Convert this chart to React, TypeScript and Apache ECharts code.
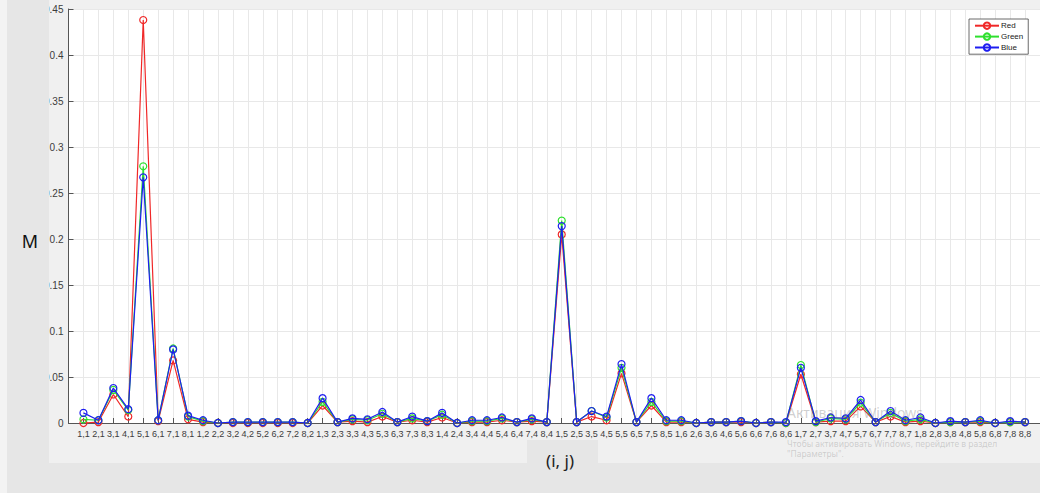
import React, { useEffect, useRef } from "react";
import * as echarts from "echarts";

// categories "i,j": j outer 1..8, i inner 1..8
const iValues = [1, 2, 3, 4, 5, 6, 7, 8];
const jValues = [1, 2, 3, 4, 5, 6, 7, 8];
const categories: string[] = [];
for (const j of jValues) for (const i of iValues) categories.push(`${i},${j}`);

const redValues = [
  0.000, 0.001, 0.031, 0.007, 0.438, 0.002, 0.068, 0.004,
  0.001, 0.000, 0.000, 0.000, 0.000, 0.000, 0.000, 0.000,
  0.019, 0.001, 0.002, 0.001, 0.007, 0.001, 0.003, 0.001,
  0.006, 0.000, 0.001, 0.001, 0.003, 0.001, 0.002, 0.001,
  0.205, 0.001, 0.007, 0.003, 0.054, 0.001, 0.019, 0.001,
  0.001, 0.000, 0.001, 0.001, 0.001, 0.000, 0.001, 0.000,
  0.053, 0.001, 0.002, 0.002, 0.018, 0.001, 0.007, 0.001,
  0.002, 0.000, 0.001, 0.001, 0.001, 0.000, 0.001, 0.001,
];
const greenValues = [
  0.004, 0.003, 0.036, 0.014, 0.279, 0.003, 0.081, 0.007,
  0.002, 0.000, 0.001, 0.001, 0.001, 0.001, 0.001, 0.000,
  0.023, 0.001, 0.004, 0.003, 0.010, 0.001, 0.005, 0.002,
  0.009, 0.000, 0.002, 0.002, 0.005, 0.001, 0.004, 0.001,
  0.220, 0.001, 0.013, 0.006, 0.060, 0.001, 0.023, 0.002,
  0.002, 0.000, 0.001, 0.001, 0.002, 0.000, 0.001, 0.000,
  0.063, 0.001, 0.005, 0.004, 0.022, 0.001, 0.011, 0.002,
  0.004, 0.000, 0.001, 0.001, 0.002, 0.000, 0.001, 0.001,
];
const blueValues = [
  0.011, 0.003, 0.038, 0.015, 0.267, 0.003, 0.080, 0.008,
  0.003, 0.000, 0.001, 0.001, 0.001, 0.001, 0.001, 0.000,
  0.027, 0.001, 0.005, 0.004, 0.012, 0.001, 0.007, 0.002,
  0.011, 0.000, 0.003, 0.003, 0.006, 0.001, 0.005, 0.001,
  0.214, 0.001, 0.013, 0.007, 0.064, 0.001, 0.027, 0.003,
  0.003, 0.000, 0.001, 0.001, 0.002, 0.000, 0.001, 0.001,
  0.060, 0.002, 0.006, 0.005, 0.025, 0.001, 0.013, 0.003,
  0.006, 0.000, 0.002, 0.001, 0.003, 0.000, 0.002, 0.001,
];
const seriesNames = ["Red", "Green", "Blue"];
const seriesColors = ["#f02828", "#2ee02e", "#1e1ef0"];
const yTicks = [0, 0.05, 0.1, 0.15, 0.2, 0.25, 0.3, 0.35, 0.4, 0.45];

export default function App() {
  const ref = useRef<HTMLDivElement>(null);
  useEffect(() => {
    if (!ref.current) return;
    const chart = echarts.init(ref.current, null, { renderer: "svg" });
    const all = [redValues, greenValues, blueValues];
    const labelFont = "'Liberation Sans', Arial, sans-serif";
    chart.setOption({
      animation: false,
      backgroundColor: "#e6e6e6",
      graphic: [
        { type: "rect", z: -10, shape: { x: 0, y: 0, width: 7, height: 493 }, style: { fill: "#f3f3f3" } },
        { type: "rect", z: -10, shape: { x: 49, y: 0, width: 991, height: 463 }, style: { fill: "#f0f0f0" } },
        { type: "rect", z: -9, shape: { x: 527, y: 440, width: 71, height: 23 }, style: { fill: "#e6e6e6" } },
        { type: "rect", z: 100, shape: { x: 7, y: 0, width: 42, height: 463 }, style: { fill: "#e6e6e6" } },
        {
          type: "text", z: 101, x: 30, y: 241,
          style: { text: "M", fill: "#111", font: "18px 'Noto Sans', sans-serif", align: "center", verticalAlign: "middle" },
        },
        {
          type: "text", z: 101, x: 560, y: 460,
          style: { text: "(i, j)", fill: "#222", font: "17px 'Noto Sans', sans-serif", align: "center", verticalAlign: "middle" },
        },
        {
          type: "text", z: 101, x: 787, y: 412,
          style: { text: "Активация Windows", fill: "rgba(120,120,120,0.35)", font: "14px 'Noto Sans', sans-serif", verticalAlign: "middle" },
        },
        {
          type: "text", z: 101, x: 787, y: 443,
          style: { text: "Чтобы активировать Windows, перейдите в раздел", fill: "rgba(120,120,120,0.3)", font: "8.5px 'Noto Sans', sans-serif", verticalAlign: "middle" },
        },
        {
          type: "text", z: 101, x: 787, y: 453,
          style: { text: "\"Параметры\".", fill: "rgba(120,120,120,0.3)", font: "8.5px 'Noto Sans', sans-serif", verticalAlign: "middle" },
        },
      ],
      grid: {
        left: 68.5,
        top: 9,
        width: 65 * 15.1,
        height: 414,
        show: true,
        backgroundColor: "#ffffff",
        borderWidth: 0,
      },
      legend: {
        orient: "vertical",
        left: 969,
        top: 19,
        itemWidth: 24,
        itemHeight: 8,
        itemGap: 2.5,
        padding: [2.5, 5, 2.5, 5],
        backgroundColor: "#ffffff",
        borderColor: "#444",
        borderWidth: 0.8,
        borderRadius: 0,
        textStyle: { fontSize: 8, color: "#222", fontFamily: labelFont, padding: [0, 0, 0, -3] },
        data: seriesNames,
      },
      xAxis: {
        type: "value",
        min: 0,
        max: 65,
        interval: 1,
        axisLine: { show: true, lineStyle: { color: "#555", width: 1 } },
        axisTick: { show: true, inside: true, length: 5, lineStyle: { color: "#555" } },
        splitLine: { show: true, lineStyle: { color: "#e8e8e8", width: 1 } },
        axisLabel: {
          fontSize: 9,
          color: "#3c3c3c",
          fontFamily: labelFont,
          margin: 6,
          showMinLabel: false,
          showMaxLabel: false,
          formatter: (v: number) => categories[Math.round(v) - 1] ?? "",
        },
      },
      yAxis: {
        type: "value",
        min: 0,
        max: 0.45,
        interval: 0.05,
        axisLine: { show: true, lineStyle: { color: "#555", width: 1 } },
        axisTick: { show: true, inside: true, length: 5, lineStyle: { color: "#555" } },
        splitLine: { show: true, lineStyle: { color: "#e8e8e8", width: 1 } },
        axisLabel: {
          fontSize: 10,
          color: "#3c3c3c",
          fontFamily: labelFont,
          margin: 5,
          formatter: (v: number) => {
            const t = yTicks.find((y) => Math.abs(y - v) < 1e-9);
            return t === undefined ? "" : String(t);
          },
        },
      },
      series: seriesNames.map((name, k) => ({
        name,
        type: "line",
        data: all[k].map((v, idx) => [idx + 1, v]),
        symbol: "circle",
        symbolSize: 7,
        showAllSymbol: true,
        lineStyle: { color: seriesColors[k], width: 1.2 },
        itemStyle: { color: "rgba(0,0,0,0)", borderColor: seriesColors[k], borderWidth: 1.2 },
        emphasis: { disabled: true },
        z: 2 + k,
      })),
    });
    return () => chart.dispose();
  }, []);
  return (
    <div
      ref={ref}
      style={{ position: "fixed", left: 0, top: 0, width: 1040, height: 493 }}
    />
  );
}
